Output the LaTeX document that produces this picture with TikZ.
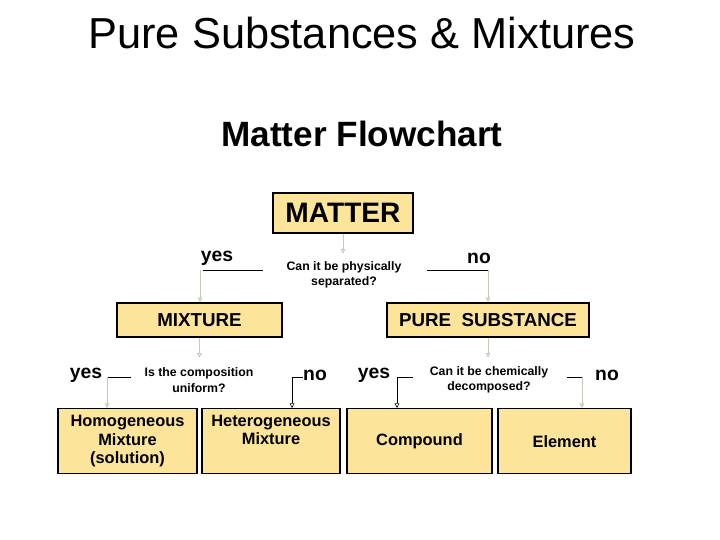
\documentclass[tikz,border=0pt]{standalone}
\usepackage{fontspec}
\setmainfont{Liberation Sans}
\usetikzlibrary{arrows.meta}
\definecolor{boxfill}{HTML}{FCE49B}
\definecolor{wire}{HTML}{C8C8B0}
\tikzset{
  box/.style={draw=black, line width=1.2pt, fill=boxfill, inner sep=0pt,
    align=center, font=\bfseries\fontsize{14}{15.5}\selectfont},
  quest/.style={align=center, font=\bfseries\fontsize{10.5}{13}\selectfont},
  answer/.style={font=\bfseries\fontsize{16.5}{16.5}\selectfont},
  link/.style={draw=wire, line width=0.8pt, -{Triangle[open,length=4pt,width=4pt]}},
  bar/.style={draw=black, line width=0.8pt}
}
\begin{document}
\begin{tikzpicture}[x=0.03cm, y=-0.03cm]
  \useasboundingbox (0,0) rectangle (720,540);

  \node (title) at (362,33) {\fontsize{37}{38}\selectfont Pure Substances \& Mixtures};
  \node (head) at (362,134) {\bfseries\fontsize{30}{31}\selectfont Matter Flowchart};

  % boxes
  \node[box, minimum width=4.2cm, minimum height=1.2cm, font=\bfseries\fontsize{24}{25}\selectfont] (matter) at (343,213) {MATTER};
  \node[box, minimum width=4.95cm, minimum height=1.02cm, font=\bfseries\fontsize{16}{17}\selectfont] (mix) at (199.5,320) {MIXTURE};
  \node[box, minimum width=6.06cm, minimum height=1.02cm, font=\bfseries\fontsize{16}{17}\selectfont] (pure) at (488,320) {PURE\ \ SUBSTANCE};
  \node[box, minimum width=4.17cm, minimum height=1.95cm, anchor=north] (homo) at (127.5,408) {Homogeneous\\Mixture\\(solution)};
  \node[box, minimum width=4.14cm, minimum height=1.95cm, anchor=north] (hetero) at (271,408) {};
  \node[align=center, font=\bfseries\fontsize{14}{15.5}\selectfont, anchor=north] (heterotext) at (271,411) {Heterogeneous\\Mixture};
  \node[box, minimum width=4.35cm, minimum height=1.95cm, anchor=north] (comp) at (419.5,408) {Compound};
  \node[box, minimum width=3.99cm, minimum height=1.95cm, anchor=north] (elem) at (564.5,408) {Element};

  % questions and answers
  \node[quest] (q1) at (344,275) {Can it be physically\\separated?};
  \node[quest] (q2) at (199,380) {Is the composition\\uniform?};
  \node[quest] (q3) at (489,380) {Can it be chemically\\decomposed?};
  \node[answer] (y1) at (217,258) {yes};
  \node[answer] (n1) at (479,258) {no};
  \node[answer] (y2) at (86,375) {yes};
  \node[answer] (n2) at (315,375) {no};
  \node[answer] (y3) at (374,375) {yes};
  \node[answer] (n3) at (607,375) {no};

  \coordinate (c1) at (200,270);
  \coordinate (c2) at (488,270);
  \coordinate (c3) at (107,377);
  \coordinate (c4) at (292,377);
  \coordinate (c5) at (397,377);
  \coordinate (c6) at (582,377);

  \draw[bar] (c1) ++(3,0) -- (263,270) (427,270) -- (c2);
  \draw[bar] (131,377) -- (c3) (303,377) -- (c4);
  \draw[bar] (413,377) -- (c5) (567,377) -- (c6);

  % connectors
  \draw[link] (matter.south) -- ++(0,20);
  \draw[link] (c1) -- (c1 |- mix.north);
  \draw[link] (c2) -- (c2 |- pure.north);
  \draw[link] (mix.south) -- ++(0,20);
  \draw[link] (pure.south) -- ++(0,20);
  \draw[link] (c3) -- (c3 |- homo.north);
  \draw[link, draw=black, line width=0.5pt] (c4) -- (c4 |- hetero.north);
  \draw[link, draw=black, line width=0.5pt] (c5) -- (c5 |- comp.north);
  \draw[link] (c6) -- (c6 |- elem.north);
\end{tikzpicture}
\end{document}
